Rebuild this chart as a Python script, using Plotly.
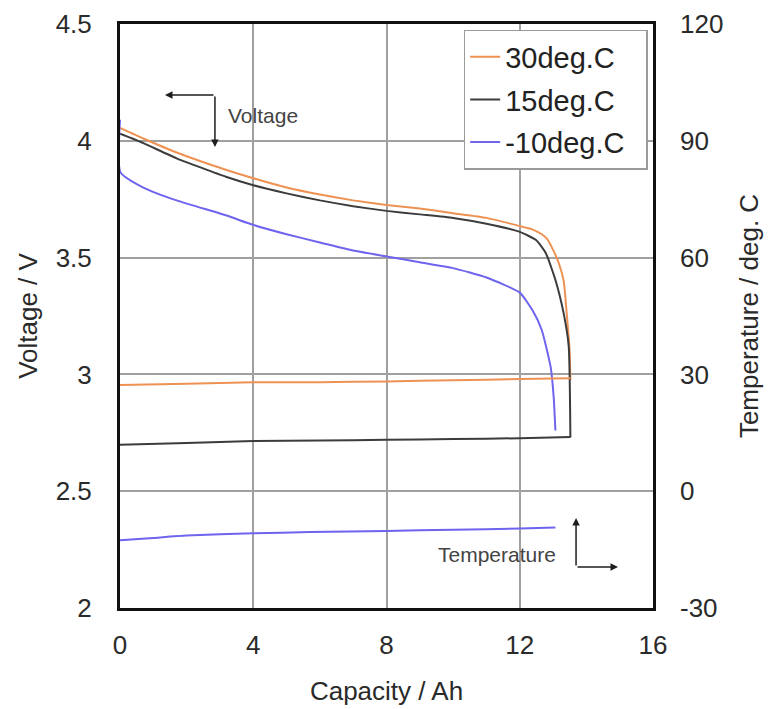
import plotly.graph_objects as go

# ---------------- data ----------------
series_names = ["30deg.C", "15deg.C", "-10deg.C"]
series_colors = ["#EE9253", "#3C3C3C", "#6E64EE"]

# discharge voltage curves (left axis, V)
cap_v30 = [0, 0.7, 1.7, 3.2, 4, 5, 6, 7, 8, 9, 10, 11, 12, 12.35, 12.66, 12.82, 12.96, 13.17, 13.32, 13.41, 13.49, 13.52]
volt_30 = [4.055, 4.01, 3.95, 3.875, 3.84, 3.80, 3.77, 3.745, 3.725, 3.71, 3.69, 3.67, 3.635, 3.622, 3.60, 3.58, 3.545, 3.477, 3.40, 3.26, 3.12, 2.976]

cap_v15 = [0, 0.7, 1.7, 3.2, 4, 5, 6, 7, 8, 9, 10, 11, 12, 12.49, 12.78, 13.08, 13.32, 13.47, 13.52]
volt_15 = [4.03, 3.99, 3.925, 3.845, 3.81, 3.775, 3.745, 3.72, 3.70, 3.685, 3.67, 3.645, 3.61, 3.575, 3.52, 3.40, 3.26, 3.12, 2.73]

cap_vm10 = [0, 0.01, 0.7, 1.7, 3.2, 4, 5, 6, 7, 8, 9, 10, 11, 12, 12.4, 12.66, 12.93, 13.02, 13.07]
volt_m10 = [4.09, 3.866, 3.80, 3.745, 3.68, 3.64, 3.60, 3.565, 3.53, 3.505, 3.48, 3.455, 3.415, 3.35, 3.27, 3.19, 3.03, 2.90, 2.76]

# cell temperature curves (right axis, deg. C)
cap_t30 = [0, 2, 4, 6, 8, 10, 12, 13.52]
temp_30 = [27.3, 27.6, 28.0, 28.0, 28.2, 28.5, 28.8, 29.0]

cap_t15 = [0, 2, 4, 6, 8, 10, 12, 13.52]
temp_15 = [11.9, 12.4, 12.9, 13.0, 13.2, 13.4, 13.6, 13.9]

cap_tm10 = [0, 1, 2, 4, 5.7, 8, 10, 12, 13.07]
temp_m10 = [-12.6, -12.0, -11.4, -10.8, -10.5, -10.2, -9.9, -9.6, -9.3]

x_ticks = [0, 4, 8, 12, 16]
y_ticks = [2, 2.5, 3, 3.5, 4, 4.5]
y_ticktext = ["2", "2.5", "3", "3.5", "4", "4.5"]
y2_ticks = [-30, 0, 30, 60, 90, 120]
y2_ticktext = ["-30", "0", "30", "60", "90", "120"]

# ---------------- figure ----------------
FONT = "Arial, Liberation Sans, Helvetica, sans-serif"
fig = go.Figure()

volt_sets = [(cap_v30, volt_30), (cap_v15, volt_15), (cap_vm10, volt_m10)]
temp_sets = [(cap_t30, temp_30), (cap_t15, temp_15), (cap_tm10, temp_m10)]

PAD = "\u00a0\u00a0"  # a little room at the right of the legend texts
for i, name in enumerate(series_names):
    cx, vy = volt_sets[i]
    fig.add_trace(go.Scatter(x=cx, y=vy, mode="lines", name=name + PAD,
                             line=dict(color=series_colors[i], width=2,
                                       shape="spline", smoothing=0.5),
                             legendgroup=name, showlegend=True))
for i, name in enumerate(series_names):
    cx, ty = temp_sets[i]
    fig.add_trace(go.Scatter(x=cx, y=ty, mode="lines", name=name,
                             line=dict(color=series_colors[i], width=2,
                                       shape="spline", smoothing=0.5),
                             legendgroup=name, showlegend=False, yaxis="y2"))

grid_col = "#a0a0a0"
# the page body adds an 8px offset, so the figure is 8px smaller with shifted margins
fig.update_layout(
    width=770, height=701,
    margin=dict(l=112, r=125, t=16, b=101),
    paper_bgcolor="white", plot_bgcolor="white",
    font=dict(family=FONT, color="#2a2a2a", size=22),
    xaxis=dict(range=[0, 16], tickvals=x_ticks, showgrid=True, gridcolor=grid_col,
               gridwidth=1.5, zeroline=False, showline=True, linecolor="#111",
               linewidth=3, mirror=True, ticks="", ticklabelstandoff=12,
               tickfont=dict(size=26), automargin=False,
               title=dict(text="Capacity / Ah", font=dict(size=26), standoff=23)),
    yaxis=dict(range=[2, 4.5], tickvals=y_ticks, ticktext=y_ticktext, showgrid=True,
               gridcolor=grid_col, gridwidth=1.5, zeroline=False, showline=True,
               linecolor="#111", linewidth=3, mirror=True, ticks="",
               ticklabelstandoff=20, tickfont=dict(size=26), automargin=False,
               title=dict(text="Voltage / V", font=dict(size=26), standoff=11)),
    yaxis2=dict(range=[-30, 120], tickvals=y2_ticks, ticktext=y2_ticktext,
                overlaying="y", side="right",
                showgrid=False, zeroline=False, showline=False, ticks="",
                ticklabelstandoff=26, tickfont=dict(size=26), automargin=False,
                title=dict(text="Temperature / deg. C", font=dict(size=26), standoff=17)),
    legend=dict(x=0.99, y=0.99, xanchor="right", yanchor="top",
                bgcolor="white", bordercolor="#9a9a9a", borderwidth=1.5,
                font=dict(size=29, color="#222"), tracegroupgap=2,
                itemwidth=30),
)

arrow_col = "#1e1e1e"
# Voltage arrows
fig.add_annotation(x=1.35, y=4.196, xref="x", yref="y", ax=50, ay=0, text="",
                   showarrow=True, arrowhead=2, arrowsize=1, arrowwidth=1.5,
                   arrowcolor=arrow_col)
fig.add_annotation(x=2.85, y=3.973, xref="x", yref="y", ax=0, ay=-52, text="",
                   showarrow=True, arrowhead=2, arrowsize=1, arrowwidth=1.5,
                   arrowcolor=arrow_col)
fig.add_annotation(x=4.29, y=4.11, xref="x", yref="y", text="Voltage",
                   showarrow=False, font=dict(size=21, color="#444"))
# Temperature arrows
fig.add_annotation(x=13.69, y=2.385, xref="x", yref="y", ax=0, ay=49, text="",
                   showarrow=True, arrowhead=2, arrowsize=1, arrowwidth=1.5,
                   arrowcolor=arrow_col)
fig.add_annotation(x=14.95, y=2.175, xref="x", yref="y", ax=-42, ay=0, text="",
                   showarrow=True, arrowhead=2, arrowsize=1, arrowwidth=1.5,
                   arrowcolor=arrow_col)
fig.add_annotation(x=11.32, y=2.227, xref="x", yref="y", text="Temperature",
                   showarrow=False, font=dict(size=21, color="#444"))

fig.write_html("out.html")
